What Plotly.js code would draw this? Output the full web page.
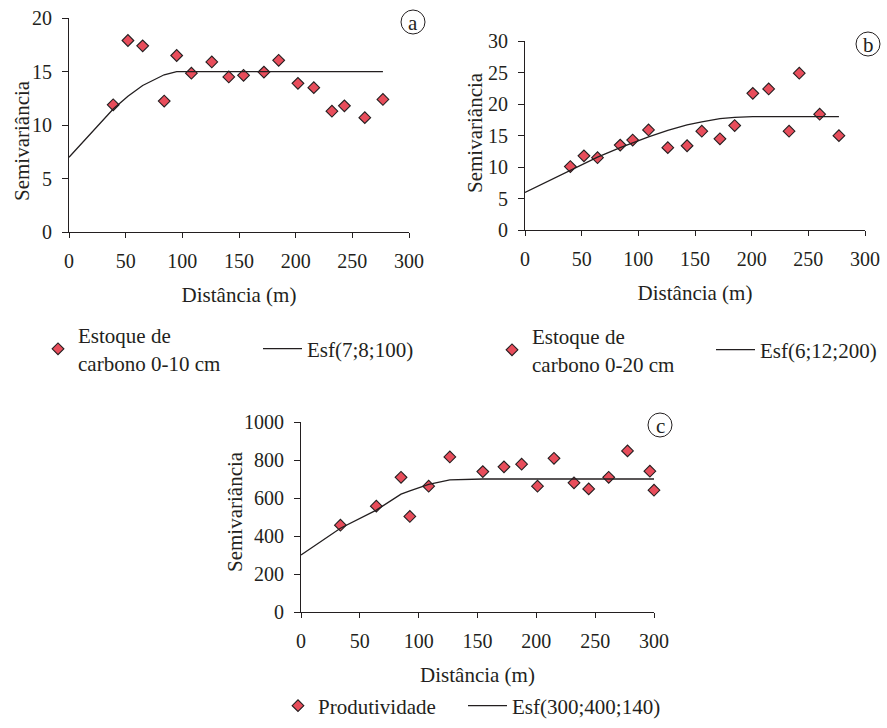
<!DOCTYPE html>
<html>
<head>
<meta charset="utf-8">
<script src="https://cdn.plot.ly/plotly-3.0.1.min.js"></script>
<style>html,body{margin:0;padding:0;background:#fff;}#chart{width:887px;height:728px;}</style>
</head>
<body>
<div id="chart"></div>
<script>
// Panel a: Estoque de carbono 0-10 cm
const aDist = [39, 52, 65, 84, 95, 108, 126, 141, 154, 172, 185, 202, 216, 232, 243, 261, 277];
const aSemi = [11.9, 17.9, 17.4, 12.25, 16.5, 14.85, 15.9, 14.5, 14.65, 14.95, 16.05, 13.9, 13.5, 11.3, 11.8, 10.7, 12.4];
const aModelDist = [0, 39, 52, 65, 84, 95, 108, 277];
const aModelSemi = [7, 11.5, 12.7, 13.7, 14.7, 15, 15, 15];

// Panel b: Estoque de carbono 0-20 cm
const bDist = [40, 52, 64, 84, 95, 109, 126, 143, 156, 172, 185, 201, 215, 233, 242, 260, 277];
const bSemi = [10.1, 11.8, 11.5, 13.5, 14.3, 15.9, 13.1, 13.4, 15.7, 14.5, 16.6, 21.7, 22.4, 15.7, 24.9, 18.4, 15.0];
const bModelDist = [0, 40, 52, 64, 84, 95, 109, 126, 143, 156, 172, 185, 201, 277];
const bModelSemi = [6, 9.55, 10.6, 11.6, 13.1, 13.9, 14.8, 15.85, 16.7, 17.2, 17.7, 17.9, 18, 18];

// Panel c: Produtividade
const cDist = [33.5, 64, 85, 92.5, 108.5, 126.5, 154.5, 172.5, 187.5, 201, 215, 232, 244.5, 261.5, 277.5, 296.5, 300];
const cSemi = [457, 557, 709, 503, 662, 816, 739, 764, 778, 662, 809, 680, 648, 709, 848, 741, 641];
const cModelDist = [0, 33.5, 64, 85, 92.5, 108.5, 126.5, 154.5, 300];
const cModelSemi = [300, 441, 536, 620, 638, 672, 695, 700, 700];

const names = {
  aPts: 'Estoque de<br>carbono 0-10 cm', aLine: 'Esf(7;8;100)',
  bPts: 'Estoque de<br>carbono 0-20 cm', bLine: 'Esf(6;12;200)',
  cPts: 'Produtividade', cLine: 'Esf(300;400;140)'
};
const panelLetters = ['a', 'b', 'c'];
const xTitle = 'Distância (m)';
const yTitle = 'Semivariância';

const W = 887, H = 728;
const TXT = '#231f20';
const FONT = 'Liberation Serif, DejaVu Serif, serif';
const MARKER = {symbol: 'diamond', size: 9, color: '#e84d5b', line: {color: '#231f20', width: 1.1}};
const LINE = {color: '#231f20', width: 1.3};

function px(x) { return x / W; }
function py(y) { return 1 - y / H; }

const traces = [
  {x: aDist, y: aSemi, type: 'scatter', mode: 'markers', marker: MARKER, name: names.aPts, xaxis: 'x', yaxis: 'y', legend: 'legend', cliponaxis: false},
  {x: aModelDist, y: aModelSemi, type: 'scatter', mode: 'lines', line: LINE, name: names.aLine, xaxis: 'x', yaxis: 'y', legend: 'legend4', cliponaxis: false},
  {x: bDist, y: bSemi, type: 'scatter', mode: 'markers', marker: MARKER, name: names.bPts, xaxis: 'x2', yaxis: 'y2', legend: 'legend2', cliponaxis: false},
  {x: bModelDist, y: bModelSemi, type: 'scatter', mode: 'lines', line: LINE, name: names.bLine, xaxis: 'x2', yaxis: 'y2', legend: 'legend5', cliponaxis: false},
  {x: cDist, y: cSemi, type: 'scatter', mode: 'markers', marker: MARKER, name: names.cPts, xaxis: 'x3', yaxis: 'y3', legend: 'legend3', cliponaxis: false},
  {x: cModelDist, y: cModelSemi, type: 'scatter', mode: 'lines', line: LINE, name: names.cLine, xaxis: 'x3', yaxis: 'y3', legend: 'legend6', cliponaxis: false}
];

function xax(domain, anchor) {
  return {domain: domain, anchor: anchor, range: [0, 300], dtick: 50, tick0: 0,
    showline: true, linecolor: TXT, linewidth: 1, ticks: 'outside', ticklen: 5, tickcolor: TXT, tickwidth: 1,
    showgrid: false, zeroline: false, fixedrange: true, ticklabelstandoff: 6,
    tickfont: {family: FONT, size: 20, color: TXT},
    title: {text: xTitle, font: {family: FONT, size: 21, color: TXT}, standoff: 16}};
}
function yax(domain, anchor, range, dtick) {
  return {domain: domain, anchor: anchor, range: range, dtick: dtick, tick0: 0,
    showline: true, linecolor: TXT, linewidth: 1, ticks: 'outside', ticklen: 6, tickcolor: TXT, tickwidth: 1,
    showgrid: false, zeroline: false, fixedrange: true, ticklabelstandoff: 6,
    tickfont: {family: FONT, size: 20, color: TXT}};
}

function legendAt(xStart, yCenter, iw) {
  return {orientation: 'h', x: px(xStart), xanchor: 'left', y: py(yCenter), yanchor: 'middle',
    bgcolor: 'rgba(0,0,0,0)', borderwidth: 0, font: {family: FONT, size: 21, color: TXT},
    valign: 'middle', traceorder: 'normal', itemwidth: iw || 30};
}

const circles = [[413, 22], [868, 44], [660, 425]];
const shapes = circles.map(c => ({type: 'circle', xref: 'paper', yref: 'paper',
  x0: px(c[0] - 12), x1: px(c[0] + 12), y0: py(c[1] + 12), y1: py(c[1] - 12),
  line: {color: TXT, width: 1}}));
const annotations = circles.map((c, i) => ({xref: 'paper', yref: 'paper', x: px(c[0]), y: py(c[1] + 1),
  xanchor: 'center', yanchor: 'middle', text: panelLetters[i], showarrow: false,
  font: {family: FONT, size: 21, color: TXT}}));
// y-axis titles
[[22, 141], [475, 132], [235, 512]].forEach(p => annotations.push({
  xref: 'paper', yref: 'paper', x: px(p[0]), y: py(p[1]), xanchor: 'center', yanchor: 'middle',
  text: yTitle, textangle: -90, showarrow: false, font: {family: FONT, size: 21, color: TXT}}));

const layout = {
  width: W, height: H, margin: {l: 0, r: 0, t: 0, b: 0},
  paper_bgcolor: '#fff', plot_bgcolor: 'rgba(0,0,0,0)',
  font: {family: FONT, color: TXT},
  showlegend: true,
  xaxis: xax([px(69), px(409)], 'y'),
  yaxis: yax([py(232.3), py(18)], 'x', [0, 20], 5),
  xaxis2: xax([px(525), px(865)], 'y2'),
  yaxis2: yax([py(230.3), py(41)], 'x2', [0, 30], 5),
  xaxis3: xax([px(301), px(654)], 'y3'),
  yaxis3: yax([py(612), py(422)], 'x3', [0, 1000], 200),
  legend: legendAt(38, 349),
  legend4: legendAt(258, 349, 39),
  legend2: legendAt(492, 350),
  legend5: legendAt(711, 350, 39),
  legend3: legendAt(278, 706),
  legend6: legendAt(463, 706, 39),
  shapes: shapes,
  annotations: annotations
};

Plotly.newPlot('chart', traces, layout, {displayModeBar: false, staticPlot: true});
</script>
</body>
</html>
